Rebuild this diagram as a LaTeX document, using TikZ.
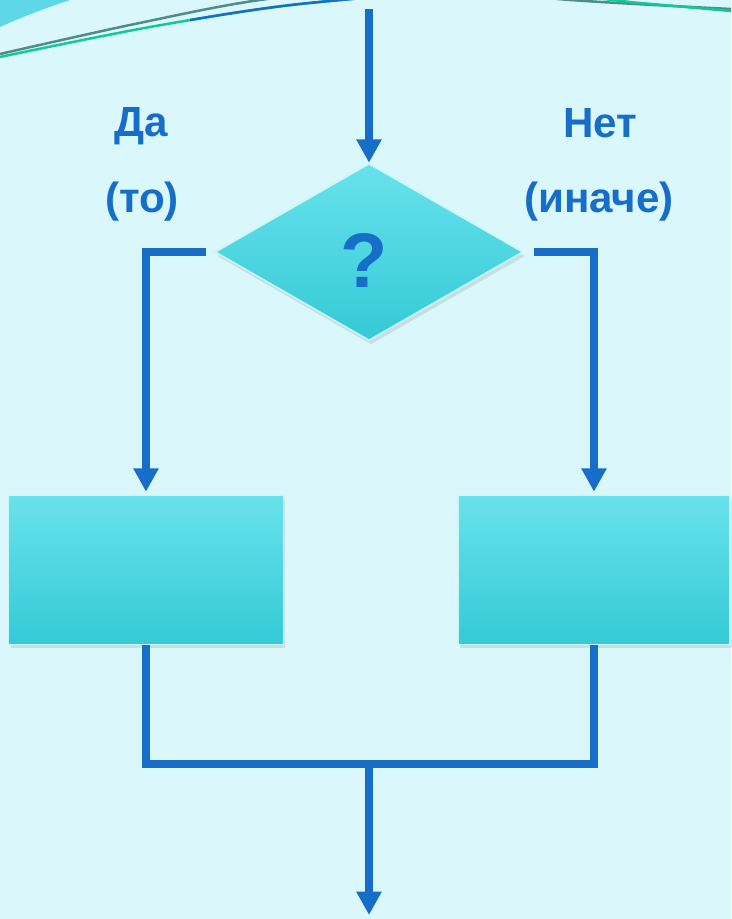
\documentclass[tikz,border=0pt]{standalone}
\usepackage{fontspec}
\setmainfont{Liberation Sans}
\usepackage{tikz}
\usetikzlibrary{arrows.meta,positioning,shapes.geometric,shadows}
\usepackage{xcolor}

\definecolor{flowblue}{RGB}{22,110,200}
\definecolor{bgcyan}{RGB}{218,247,251}
\definecolor{boxtop}{RGB}{104,226,236}
\definecolor{boxbot}{RGB}{52,202,214}
\definecolor{boxedge}{RGB}{200,248,250}
\definecolor{swgrey}{RGB}{80,140,140}
\definecolor{swgreen}{RGB}{20,200,150}
\definecolor{swcyan}{RGB}{94,216,232}

\begin{document}
\begin{tikzpicture}[x=0.02cm,y=-0.02cm,
	flow/.style={draw=flowblue,line width=0.16cm,-{Triangle[length=0.47cm,width=0.48cm]}},
	wire/.style={draw=flowblue,line width=0.16cm},
	swoosh/.style={line width=0.05cm},
	lbl/.style={text=flowblue,font=\bfseries\fontsize{24}{28}\selectfont,inner sep=0pt,anchor=base}]
	\fill[bgcyan] (0,0) rectangle (731,919);
	\useasboundingbox (0,0) rectangle (731,919);
	% swoosh at the top
	\fill[swcyan] (0,0) -- (70,0) .. controls (40,10) and (20,18) .. (0,27) -- cycle;
	\draw[swoosh,swgrey] plot[smooth] coordinates {(0,54) (130,25) (260,0) (415,-14) (570,0) (731,9)};
	\draw[swoosh,swgreen] plot[smooth] coordinates {(0,57) (150,27) (300,4) (495,-10) (640,3) (731,11)};
	\begin{scope}
		\clip (190,-30) rectangle (560,40);
		\draw[swoosh,flowblue] plot[smooth] coordinates {(0,57) (150,27) (300,4) (495,-10) (640,3) (731,11)};
	\end{scope}
	
	\begin{scope}[every node/.style={draw=boxedge,line width=0.03cm,top color=boxtop,bottom color=boxbot,drop shadow={opacity=0.2,shadow xshift=0.04cm,shadow yshift=-0.08cm},inner sep=0pt}]
		\node[diamond,minimum width=6.16cm,minimum height=3.54cm] (q) at (369,252) {};
		\node[rectangle,minimum width=5.5cm,minimum height=2.98cm] (yes) at (146,570) {};
		\node[rectangle,minimum width=5.44cm,minimum height=2.98cm] (no) at (594,570) {};
	\end{scope}
	\node[lbl,font=\bfseries\fontsize{44}{50}\selectfont] (mark) at (364,287) {?};
	
	\node[lbl] (da) at (141,136) {Да};
	\node[lbl] (to) at (142,212) {(то)};
	\node[lbl] (net) at (600,137) {Нет};
	\node[lbl] (inache) at (599,212) {(иначе)};
	
	\coordinate (top) at (369,9);
	\coordinate (mid) at (369,764);
	\coordinate (bot) at (369,915);
	
	\draw[flow] (top) -- (q.north);
	\draw[flow,shorten <=0.16cm,shorten >=0.06cm] (q.west) -| (yes.north);
	\draw[flow,shorten <=0.2cm,shorten >=0.06cm] (q.east) -| (no.north);
	\draw[wire] (yes.south) |- (mid) -| (no.south);
	\draw[flow] (mid) -- (bot);
\end{tikzpicture}
\end{document}
